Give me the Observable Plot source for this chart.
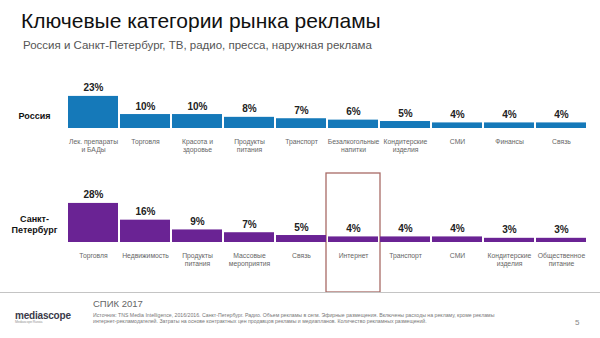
<!DOCTYPE html>
<html lang="ru">
<head>
<meta charset="utf-8">
<script src="https://cdn.jsdelivr.net/npm/d3@7"></script>
<script src="https://cdn.jsdelivr.net/npm/@observablehq/plot@0.6"></script>
<style>
  html, body { margin: 0; padding: 0; background: #fff; }
  body { width: 600px; height: 338px; position: relative; overflow: hidden; font-family: "Liberation Sans", Arial, sans-serif; }
  #title { position: absolute; left: 21px; top: 9px; font-size: 21px; color: #111; white-space: nowrap; }
  #subtitle { position: absolute; left: 23px; top: 39px; font-size: 11.5px; color: #555; white-space: nowrap; }
  #chart { position: absolute; left: 0; top: 62px; }
  #rule { position: absolute; left: 0; top: 292px; width: 600px; height: 1px; background: #c4c4c4; }
  #spik { position: absolute; left: 93px; top: 298px; font-size: 9.5px; color: #666; }
  #source { position: absolute; left: 93px; top: 312px; font-size: 5.2px; line-height: 6px; color: #777; width: 420px; }
  #logo { position: absolute; left: 15px; top: 310px; font-size: 10px; color: #3a3a4a; font-weight: bold; letter-spacing: -0.2px; }
  #logo small { display: block; font-size: 3.5px; color: #999; font-weight: normal; margin-top: -1px; }
  #page { position: absolute; left: 575px; top: 318px; font-size: 8px; color: #888; }
</style>
</head>
<body>
<div id="title">Ключевые категории рынка рекламы</div>
<div id="subtitle">Россия и Санкт-Петербург, ТВ, радио, пресса, наружная реклама</div>
<div id="chart"></div>
<div id="rule"></div>
<div id="spik">СПИК 2017</div>
<div id="logo">mediascope<small>Mediascope Russia</small></div>
<div id="source">Источник: TNS Media Intelligence, 2016/2016. Санкт-Петербург. Радио. Объем рекламы в сегм. Эфирные размещения. Включены расходы на рекламу, кроме рекламы<br>интернет-рекламодателей. Затраты на основе контрактных цен продавцов рекламы и медиапланов. Количество рекламных размещений.</div>
<div id="page">5</div>
<script>
const rows = ["Россия", "Санкт-Петербург"];
const rowLabels = ["Россия", "Санкт-\nПетербург"];
const ruCategories = ["Лек. препараты\nи БАДы", "Торговля", "Красота и\nздоровье", "Продукты\nпитания", "Транспорт", "Безалкогольные\nнапитки", "Кондитерские\nизделия", "СМИ", "Финансы", "Связь"];
const ruValues = [23, 10, 10, 8, 7, 6, 5, 4, 4, 4];
const spbCategories = ["Торговля", "Недвижимость", "Продукты\nпитания", "Массовые\nмероприятия", "Связь", "Интернет", "Транспорт", "СМИ", "Кондитерские\nизделия", "Общественное\nпитание"];
const spbValues = [28, 16, 9, 7, 5, 4, 4, 4, 3, 3];
const highlightCategory = "Интернет";
const rowColors = ["#1579b9", "#6a2394"];

const data = [
  ...ruCategories.map((c, i) => ({row: rows[0], i, category: c, value: ruValues[i]})),
  ...spbCategories.map((c, i) => ({row: rows[1], i, category: c, value: spbValues[i]}))
];
const highlight = data.filter(d => d.row === rows[1] && d.category === highlightCategory);
const labels = rows.map((r, k) => ({row: r, label: rowLabels[k]}));

const chart = Plot.plot({
  width: 600,
  height: 233,
  marginTop: 5,
  marginBottom: 53,
  marginLeft: 67,
  marginRight: 13,
  style: {fontFamily: "Liberation Sans, Arial, sans-serif", background: "transparent"},
  x: {type: "band", domain: d3.range(10), padding: 0, axis: null},
  y: {domain: [0, 43], axis: null},
  fy: {domain: rows, axis: null, paddingInner: 0.478, paddingOuter: 0},
  color: {domain: rows, range: rowColors},
  marks: [
    Plot.cell(highlight, {x: "i", fy: "row", fill: "none", stroke: "#a86a66", strokeWidth: 1.3, insetTop: -9, insetBottom: -50, insetLeft: -1, insetRight: -1}),
    Plot.barY(data, {x: "i", y: "value", fy: "row", fill: "row", insetLeft: 1, insetRight: 1}),
    Plot.text(data, {x: "i", y: "value", fy: "row", text: d => d.value + "%", lineAnchor: "bottom", dy: -5, fontSize: 10, fontWeight: "bold", fill: "#222"}),
    Plot.text(data, {x: "i", y: 0, fy: "row", text: "category", lineAnchor: "top", dy: 9, fontSize: 6.8, fill: "#666", lineHeight: 1.25}),
    Plot.text(labels, {fy: "row", text: "label", frameAnchor: "bottom-left", textAnchor: "middle", lineAnchor: "bottom", dx: -33, dy: -10, fontSize: 9, fontWeight: "bold", fill: "#111", lineHeight: 1.15})
  ]
});
document.getElementById("chart").appendChild(chart);
</script>
</body>
</html>
